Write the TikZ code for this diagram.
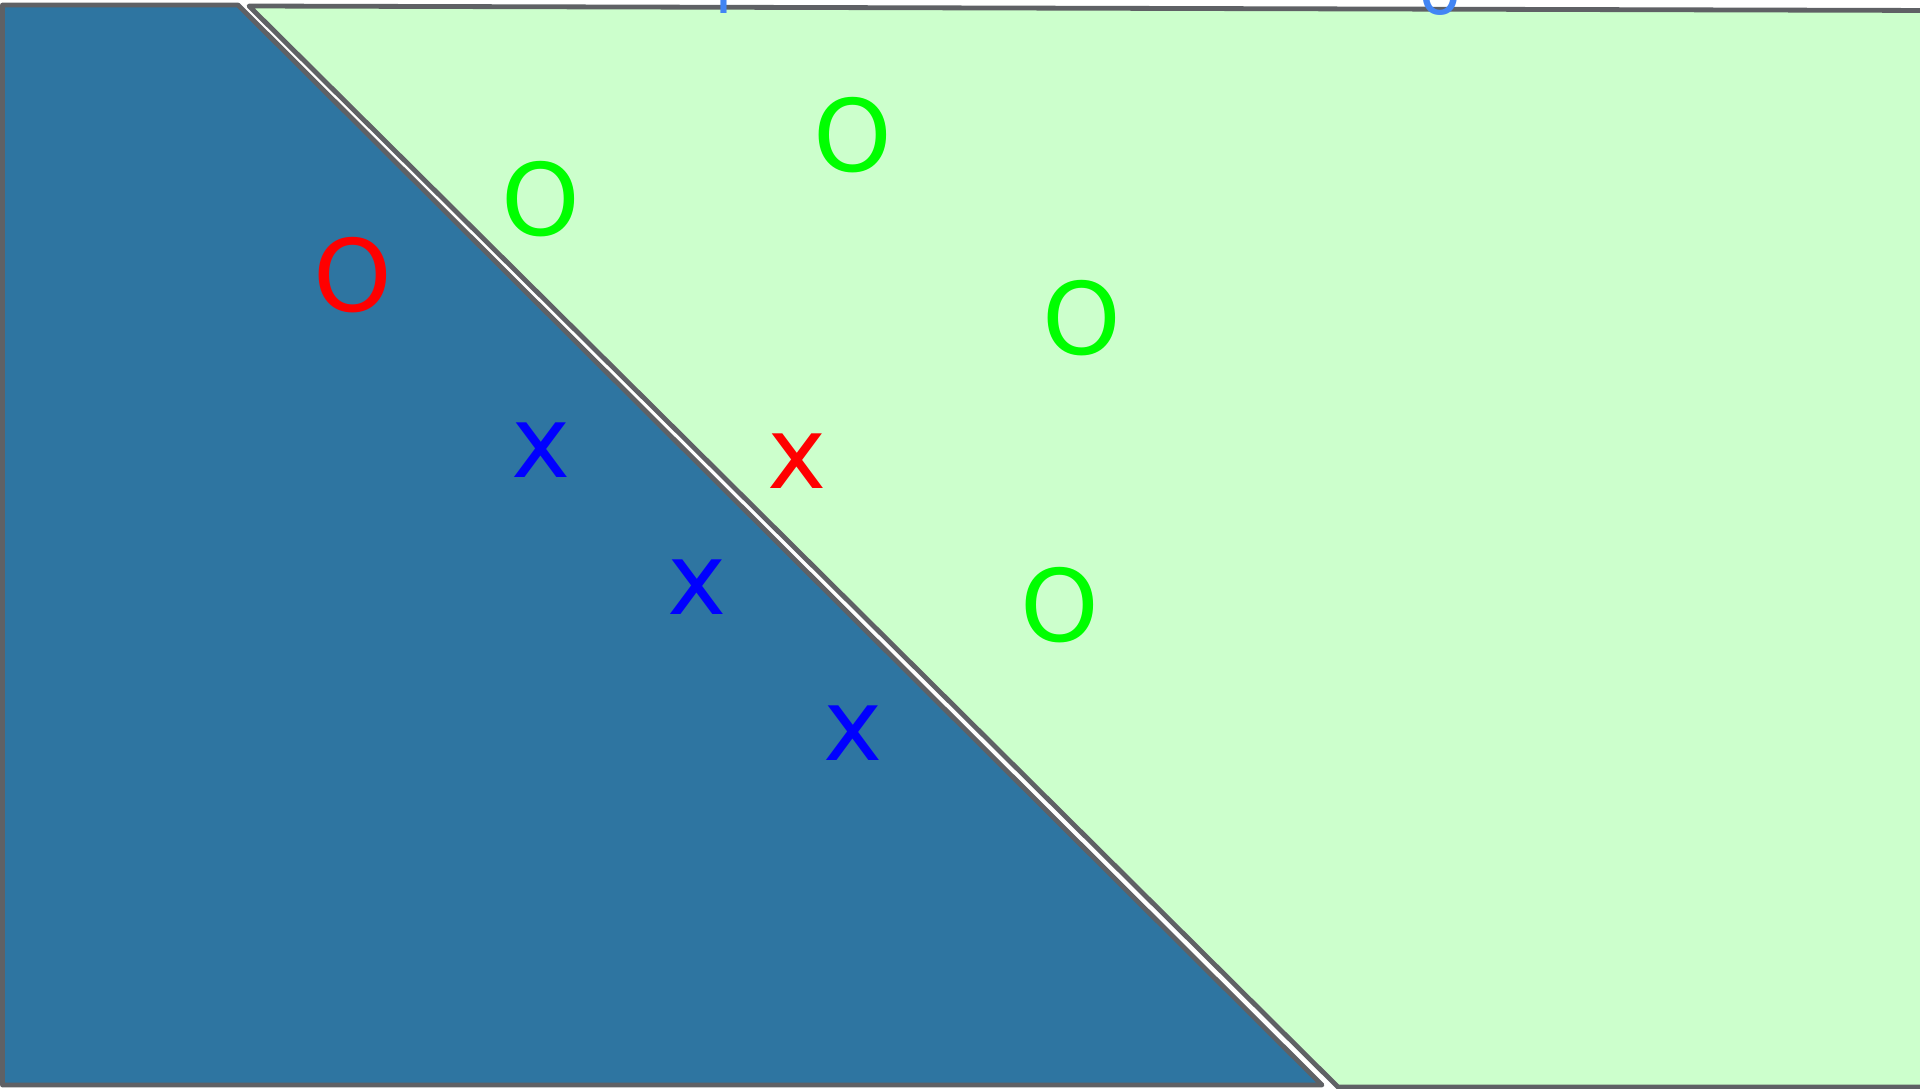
\documentclass[tikz,border=0pt]{standalone}
\usepackage{fontspec}
\setmainfont{DejaVu Sans}
\definecolor{bordergray}{HTML}{5F6165}
\definecolor{darkfill}{HTML}{2E75A1}
\definecolor{lightfill}{HTML}{CCFFCC}
\definecolor{pure green}{HTML}{00FF00}
\definecolor{pure red}{HTML}{FF0000}
\definecolor{pure blue}{HTML}{0000FF}
\definecolor{toplabel}{HTML}{4285F4}
\begin{document}
\begin{tikzpicture}[x=0.5pt,y=-0.5pt,
  region/.style={draw=bordergray, line width=2.4pt, line join=round},
  glyph/.style={font=\fontsize{50pt}{60pt}\selectfont, inner sep=0pt, outer sep=0pt},
  smallglyph/.style={font=\fontsize{34pt}{40pt}\selectfont, inner sep=0pt, outer sep=0pt, text=toplabel, anchor=base}]
\useasboundingbox (0,0) rectangle (1920,1088);
\clip (0,0) rectangle (1920,1088);
\fill[white] (0,0) rectangle (1920,1088);
% left (dark) region
\path[region, fill=darkfill] (2.5,5) -- (238,5) -- (1322,1085) -- (2.5,1085) -- cycle;
% right (light) region
\path[region, fill=lightfill] (249,6) -- (1940,10.5) -- (1940,1087) -- (1338,1087) -- cycle;
% cut-off labels at the top
\node[smallglyph] (topA) at (724,13) {l};
\node[smallglyph] (topB) at (1440,14) {o};
% markers
\node[glyph, text=pure red] (redO) at (353,275) {O};
\node[glyph, text=pure green] (greenO1) at (541,199) {O};
\node[glyph, text=pure green] (greenO2) at (853,135) {O};
\node[glyph, text=pure green] (greenO3) at (1082,318) {O};
\node[glyph, text=pure green] (greenO4) at (1060,605) {O};
\node[glyph, text=pure blue] (blueX1) at (541,450) {x};
\node[glyph, text=pure red] (redX) at (797,461) {x};
\node[glyph, text=pure blue] (blueX2) at (697,587) {x};
\node[glyph, text=pure blue] (blueX3) at (853,733) {x};
\end{tikzpicture}
\end{document}
